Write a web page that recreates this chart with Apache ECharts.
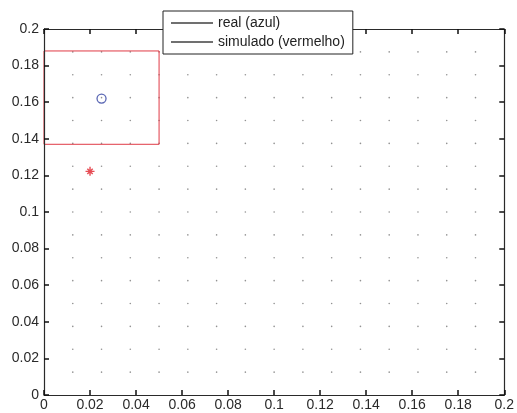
<!DOCTYPE html>
<html>
<head>
<meta charset="utf-8">
<style>
  html, body { margin: 0; padding: 0; background: #fff; }
  #main { width: 517px; height: 413px; }
</style>
<script src="https://cdn.jsdelivr.net/npm/echarts@6/dist/echarts.min.js"></script>
</head>
<body>
<div id="main"></div>
<script>
// data
var realPoint = [[0.025, 0.162]];
var simPoint = [[0.02, 0.1222]];
// red window around the real point: x0, x1, y0, y1
var winX = [0, 0.05];
var winY = [0.137, 0.188];
// dotted grid positions (MATLAB ':' grid)
var dotsX = [0.0125, 0.025, 0.0375, 0.05, 0.0625, 0.075, 0.0875, 0.1, 0.1125, 0.125, 0.1375, 0.15, 0.1625, 0.175, 0.1875];
var dotsY = [0.0125, 0.025, 0.0375, 0.05, 0.0625, 0.075, 0.0875, 0.1, 0.1125, 0.125, 0.1375, 0.15, 0.1625, 0.175, 0.1875];
var legendNames = ['real (azul)', 'simulado (vermelho)'];

var dots = [];
dotsX.forEach(function (x) {
  dotsY.forEach(function (y) { dots.push([x, y]); });
});
var rect = [[winX[0], winY[0]], [winX[1], winY[0]], [winX[1], winY[1]], [winX[0], winY[1]], [winX[0], winY[0]]];

var font = 'Liberation Sans, Arial, sans-serif';
var axisCol = '#2a2a2a';

function fmt(v) {
  return String(Math.round(v * 100) / 100);
}

function makeAxis(pos, withLabels, margin) {
  return {
    type: 'value',
    position: pos,
    min: 0,
    max: 0.2,
    interval: 0.02,
    z: 5,
    axisLine: { show: true, onZero: false, lineStyle: { color: axisCol, width: 1.2 } },
    axisTick: { show: true, inside: true, length: 5, lineStyle: { color: '#111', width: 1.5 } },
    axisLabel: withLabels
      ? { show: true, color: axisCol, fontSize: 14, fontFamily: font, margin: margin, formatter: fmt }
      : { show: false },
    splitLine: { show: false }
  };
}

var myChart = echarts.init(document.getElementById('main'));
myChart.setOption({
  animation: false,
  backgroundColor: '#fff',
  grid: { left: 44, right: 10, top: 29, bottom: 18 },
  xAxis: [makeAxis('bottom', true, 3), makeAxis('top', false, 0)],
  yAxis: [makeAxis('left', true, 5), makeAxis('right', false, 0)],
  legend: {
    orient: 'vertical',
    left: 163,
    top: 11,
    z: 6,
    padding: [5, 8, 5, 8],
    itemGap: 5,
    itemWidth: 42,
    itemHeight: 1.5,
    backgroundColor: '#fff',
    borderColor: '#222',
    borderWidth: 1,
    selectedMode: false,
    textStyle: { color: '#222', fontSize: 14, fontFamily: font, lineHeight: 14 },
    data: legendNames.map(function (n) {
      return { name: n, icon: 'rect', itemStyle: { color: '#111', borderWidth: 0 } };
    })
  },
  series: [
    {
      type: 'scatter',
      silent: true,
      symbol: 'circle',
      symbolSize: 1.6,
      itemStyle: { color: '#777' },
      data: dots,
      z: 1
    },
    {
      type: 'line',
      silent: true,
      symbol: 'none',
      lineStyle: { color: '#e03a45', width: 1 },
      data: rect,
      z: 2
    },
    {
      name: legendNames[0],
      type: 'scatter',
      silent: true,
      symbol: 'circle',
      symbolSize: 9,
      itemStyle: { color: 'transparent', borderColor: '#3040a0', borderWidth: 1.3 },
      data: realPoint,
      z: 3
    },
    {
      name: legendNames[1],
      type: 'scatter',
      silent: true,
      symbol: 'path://M0,-5L0,5M-5,0L5,0M-3,-3L3,3M-3,3L3,-3',
      symbolSize: 9,
      itemStyle: { color: 'transparent', borderColor: '#e0202a', borderWidth: 1.4 },
      data: simPoint,
      z: 3
    }
  ]
});
</script>
</body>
</html>
